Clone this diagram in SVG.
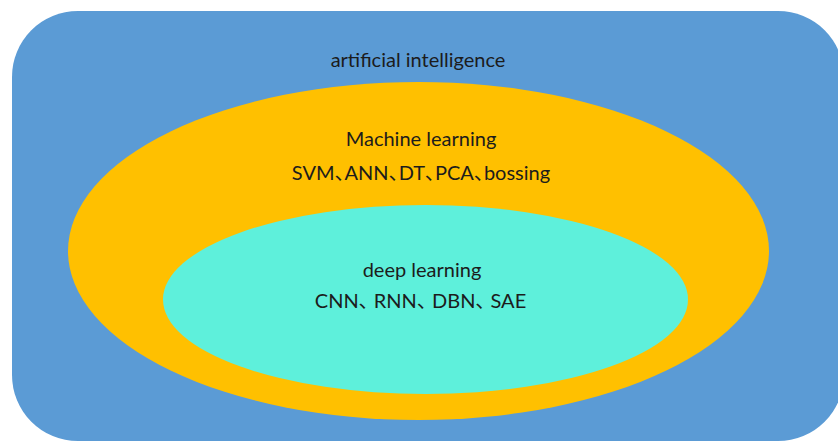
<svg xmlns="http://www.w3.org/2000/svg" width="838" height="441" viewBox="0 0 838 441">
<style>
.t{font-family:Lato,"Noto Sans CJK SC",sans-serif;font-size:20px;fill:#1c1c1c;text-anchor:middle;font-feature-settings:"palt" 1}
</style>
<rect width="838" height="441" fill="#ffffff"/>
<g id="ai">
<rect x="12" y="11" width="832" height="430" rx="66" ry="66" fill="#5B9BD5"/>
<text class="t" x="418" y="67">artificial intelligence</text>
</g>
<g id="ml">
<ellipse cx="418.5" cy="251" rx="350.5" ry="169" fill="#FFC000"/>
<text class="t" x="421" y="146">Machine learning</text>
<text class="t" x="421" y="180">SVM、ANN、DT、PCA、bossing</text>
</g>
<g id="dl">
<ellipse cx="425.5" cy="299.5" rx="262.5" ry="94.5" fill="#5EF0DB"/>
<text class="t" x="422" y="277">deep learning</text>
<text class="t" x="420.5" y="308">CNN、 RNN、 DBN、 SAE</text>
</g>
<g id="connectors"></g>
</svg>
